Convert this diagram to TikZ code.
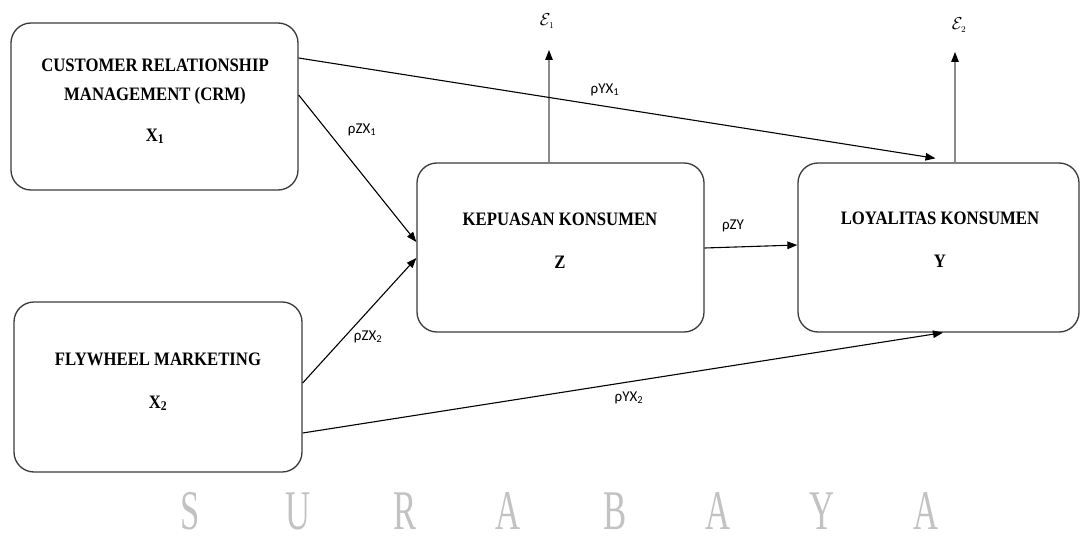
\documentclass[tikz,border=0pt]{standalone}
\usepackage{fontspec}
\setmainfont{Liberation Serif}
\newfontfamily\labelfont{Carlito}
\usetikzlibrary{arrows.meta}
\definecolor{boxline}{HTML}{3A3A3A}
\definecolor{errline}{HTML}{8A8A8A}
\definecolor{mark}{HTML}{C2C2C2}
\begin{document}
\begin{tikzpicture}[x=1pt,y=-1pt,
  varbox/.style={draw=boxline,line width=1.3pt,rounded corners=20pt,inner sep=0pt},
  boxtext/.style={anchor=base,inner sep=0pt,xscale=0.88,font=\fontsize{19}{21}\selectfont\bfseries},
  path/.style={draw=black,line width=1.1pt,-{Triangle[length=10pt,width=7.5pt]}},
  errpath/.style={draw=errline,line width=1.1pt,-{Triangle[length=10pt,width=7.5pt,color=black]}},
  coef/.style={inner sep=0pt,font=\labelfont\fontsize{15}{17}\selectfont},
  errtext/.style={inner sep=0pt,font=\fontsize{19}{21}\selectfont},
  wmark/.style={anchor=base,inner sep=0pt,xscale=0.62,text=mark,font=\fontsize{56}{60}\selectfont}
]
\useasboundingbox (0,0) rectangle (1082,543);

% variable boxes
\node[varbox,minimum width=287pt,minimum height=167pt] (x1) at (154.5,106.5) {};
\node[varbox,minimum width=288pt,minimum height=170pt] (x2) at (158,387) {};
\node[varbox,minimum width=287pt,minimum height=169pt] (z)  at (560.5,247.5) {};
\node[varbox,minimum width=281pt,minimum height=169pt] (y)  at (938.5,247.5) {};

% box captions
\node[boxtext] (x1a) at (155,71) {CUSTOMER RELATIONSHIP};
\node[boxtext] (x1b) at (155,100) {MANAGEMENT (CRM)};
\node[boxtext] (x1c) at (155,141) {X\textsubscript{1}};
\node[boxtext] (x2a) at (158,365) {FLYWHEEL MARKETING};
\node[boxtext] (x2b) at (158,408) {X\textsubscript{2}};
\node[boxtext] (za)  at (560,225) {KEPUASAN KONSUMEN};
\node[boxtext] (zb)  at (560,268) {Z};
\node[boxtext] (ya)  at (940,224.5) {LOYALITAS KONSUMEN};
\node[boxtext] (yb)  at (940,267) {Y};

% residual terms
\coordinate (e1tip) at (549,50);
\coordinate (e2tip) at (955,52);
\node[errtext] (e1) at (547,21) {$\mathcal{E}_{\scriptscriptstyle 1}$};
\node[errtext] (e2) at (959,25) {$\mathcal{E}_{\scriptscriptstyle 2}$};
\draw[errpath] ([xshift=-11.5pt]z.north) -- (e1tip);
\draw[errpath] ([xshift=16.5pt]y.north) -- (e2tip);

% path coefficients
\draw[path] ([yshift=11.5pt]x1.east) -- ([yshift=5.5pt]z.west);
\draw[path] ([yshift=4pt]x2.east) -- ([yshift=-10.5pt]z.west);
\draw[path] ([yshift=48.5pt]x1.east) -- ([xshift=-3pt,yshift=4pt]y.north);
\draw[path] ([yshift=-46pt]x2.east) -- ([xshift=4.5pt]y.south);
\draw[path] ([yshift=-0.5pt]z.east) -- ([yshift=2.5pt]y.west);

\node[coef] (pzx1) at (362,130) {ρZX\textsubscript{1}};
\node[coef] (pzx2) at (368,337) {ρZX\textsubscript{2}};
\node[coef] (pyx1) at (605,90)  {ρYX\textsubscript{1}};
\node[coef] (pyx2) at (629,398) {ρYX\textsubscript{2}};
\node[coef] (pzy)  at (733,226) {ρZY};

% city name along the lower edge
\foreach \ch/\xx [count=\i] in {S/190,U/298,R/405,A/508,B/615,A/718,Y/822,A/926}
  \node[wmark] (w\i) at (\xx,529) {\ch};
\end{tikzpicture}
\end{document}
